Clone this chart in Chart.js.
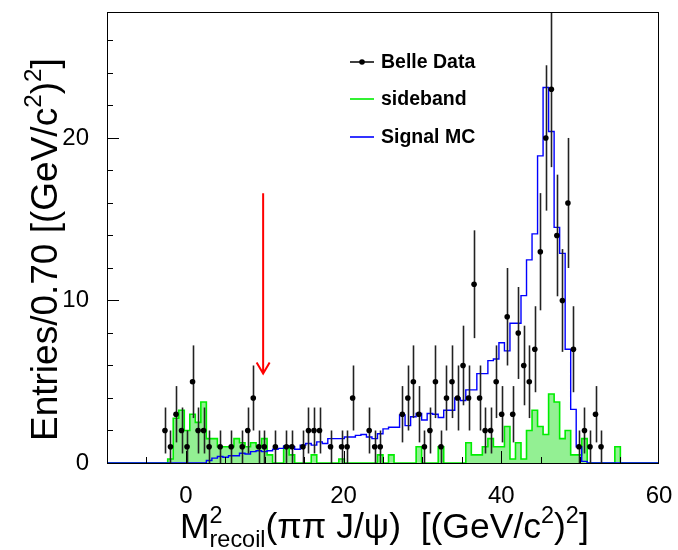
<!DOCTYPE html>
<html>
<head>
<meta charset="utf-8">
<script src="https://cdn.jsdelivr.net/npm/chart.js@4.4.1/dist/chart.umd.min.js"></script>
<style>
  html, body { margin: 0; padding: 0; background: #fff; }
  #c { display: block; }
</style>
</head>
<body>
<canvas id="c" width="678" height="550"></canvas>
<script>
// Histogram binning: 100 bins of 0.70 from -10 to 60
const BIN_MIN = -10;
const BIN_W = 0.7;

// Belle data, entries per bin (zero bins are not drawn)
const dataCounts = [
  0, 0, 0, 0, 0, 0, 0, 0, 0, 0,
  2, 1, 3, 2, 1, 5, 2, 2, 1, 0,
  1, 0, 1, 0, 1, 2, 4, 1, 1, 0,
  1, 0, 1, 1, 0, 1, 2, 2, 2, 0,
  1, 0, 1, 1, 4, 0, 0, 2, 1, 1,
  0, 0, 0, 3, 4, 5, 3, 1, 2, 5,
  1, 4, 5, 4, 6, 4, 11, 4, 2, 2,
  5, 3, 9, 3, 8, 6, 5, 7, 13, 20,
  23, 14, 10, 16, 7, 1, 2, 1, 3, 1,
  0, 0, 0, 0, 0, 0, 0, 0, 0, 0
];

// sideband (scaled), per bin
const sideband = [
  0, 0, 0, 0, 0, 0, 0, 0, 0, 0,
  0, 0.25, 2.75, 3.25, 2.0, 3.0, 2.5, 3.75, 1.5, 1.5,
  1.0, 1.0, 1.0, 1.5, 1.25, 1.0, 1.25, 1.0, 1.5, 0.5,
  0, 0, 1.0, 0.5, 0, 0, 0, 0.5, 0, 0,
  0, 0, 0.25, 0, 0, 0, 0, 0, 0, 0.5,
  0, 0.5, 0, 0, 0, 0, 1.0, 0, 0, 0,
  1.0, 0, 0, 0, 0, 1.25, 0.5, 0.5, 1.0, 1.5,
  1.0, 1.0, 2.25, 0.25, 1.25, 0.25, 2.0, 3.25, 2.25, 1.75,
  4.25, 3.75, 1.5, 2.0, 0.5, 0.5, 1.5, 0, 0, 0,
  0, 0, 1.0, 0, 0, 0, 0, 0, 0, 0
];

// Signal MC, per bin
const signalMC = [
  0, 0, 0, 0, 0, 0, 0, 0, 0, 0,
  0, 0, 0, 0, 0, 0, 0, 0, 0.15, 0.3,
  0.4, 0.35, 0.45, 0.45, 0.6, 0.55, 0.7, 0.75, 0.7, 0.75,
  0.85, 0.9, 1.05, 1.0, 0.85, 1.1, 1.2, 1.1, 1.3, 1.2,
  1.5, 1.5, 1.5, 1.6, 1.6, 1.7, 1.75, 1.6, 1.5, 1.8,
  2.1, 2.2, 2.2, 2.95, 2.3, 2.85, 3.05, 2.65, 3.05, 3.0,
  2.8, 3.25, 3.25, 4.0, 3.85, 4.5, 4.5, 5.5, 5.5, 6.3,
  6.4, 7.4, 6.9, 8.6, 8.6, 10.3, 12.5, 14.1, 18.9, 23.1,
  20.4, 14.5, 12.9, 7.0, 3.3, 1.0, 0.1, 0, 0, 0,
  0, 0, 0, 0, 0, 0, 0, 0, 0, 0
];

const X_TICKS = [0, 20, 40, 60];
const Y_TICKS = [0, 10, 20];
const ARROW_X = 9.8, ARROW_TOP = 16.6, ARROW_TIP = 5.5;

const FONT = '"Liberation Sans", Arial, Helvetica, sans-serif';

// step outline: one point per left bin edge + closing point at the right edge
function histPoints(vals) {
  const pts = vals.map((v, i) => ({ x: BIN_MIN + i * BIN_W, y: v }));
  pts.push({ x: BIN_MIN + vals.length * BIN_W, y: vals[vals.length - 1] });
  return pts;
}

const dataPts = dataCounts
  .map((n, i) => ({ x: BIN_MIN + (i + 0.5) * BIN_W, y: n }))
  .filter(p => p.y > 0);

// error bars sqrt(N), drawn just before the markers
const errorBars = {
  id: 'errorBars',
  beforeDatasetDraw(chart, args) {
    if (args.index !== 0) return;
    const { ctx, chartArea: a, scales: { x, y } } = chart;
    ctx.save();
    ctx.beginPath();
    ctx.rect(a.left, a.top, a.right - a.left, a.bottom - a.top);
    ctx.clip();
    ctx.strokeStyle = '#222';
    ctx.lineWidth = 1.6;
    dataPts.forEach(p => {
      const e = Math.sqrt(p.y);
      const px = Math.round(x.getPixelForValue(p.x)) + 0.5;
      ctx.beginPath();
      ctx.moveTo(px, y.getPixelForValue(p.y - e));
      ctx.lineTo(px, y.getPixelForValue(p.y + e));
      ctx.stroke();
    });
    ctx.restore();
  }
};

// text with ROOT-like super/subscripts: parts = [[text, kind]]
function drawRich(ctx, parts, size) {
  let w = 0;
  parts.forEach(([t, kind]) => {
    if (kind === 'supsub') {
      ctx.font = `${size * 0.66}px ${FONT}`;
      ctx.fillText(t[0], w, -size * 0.42);
      ctx.fillText(t[1], w, size * 0.26);
      w += Math.max(ctx.measureText(t[0]).width, ctx.measureText(t[1]).width);
    } else if (kind === 'sup') {
      ctx.font = `${size * 0.66}px ${FONT}`;
      ctx.fillText(t, w, -size * 0.42);
      w += ctx.measureText(t).width;
    } else {
      ctx.font = `${size}px ${FONT}`;
      ctx.fillText(t, w, 0);
      w += ctx.measureText(t).width;
    }
  });
  return w;
}

const decorations = {
  id: 'decorations',
  afterDraw(chart) {
    const { ctx, chartArea: a, scales: { x, y } } = chart;
    ctx.save();

    // frame
    ctx.strokeStyle = '#000';
    ctx.lineWidth = 1;
    ctx.strokeRect(a.left + 0.5, a.top + 0.5, a.right - a.left - 1, a.bottom - a.top);

    // ticks inside the frame (left and bottom only)
    ctx.beginPath();
    for (let v = 0; v <= 27; v += 2) {
      const py = Math.round(y.getPixelForValue(v)) + 0.5;
      const len = v % 10 === 0 ? 12 : 6;
      ctx.moveTo(a.left, py); ctx.lineTo(a.left + len, py);
    }
    for (let v = -5; v <= 55; v += 5) {
      const px = Math.round(x.getPixelForValue(v)) + 0.5;
      const len = v % 20 === 0 ? 12 : 6;
      ctx.moveTo(px, a.bottom); ctx.lineTo(px, a.bottom - len);
    }
    ctx.stroke();

    // red arrow
    const ax = x.getPixelForValue(ARROW_X);
    const at = y.getPixelForValue(ARROW_TOP);
    const tip = y.getPixelForValue(ARROW_TIP);
    ctx.strokeStyle = '#ff0000';
    ctx.lineWidth = 2;
    ctx.beginPath();
    ctx.moveTo(ax, at); ctx.lineTo(ax, tip);
    ctx.moveTo(ax - 6.5, tip - 11); ctx.lineTo(ax, tip); ctx.lineTo(ax + 6.5, tip - 11);
    ctx.stroke();

    // legend
    const items = [
      ['Belle Data', '#000', 62, true],
      ['sideband', '#00ee00', 99, false],
      ['Signal MC', '#0000ff', 137, false]
    ];
    ctx.font = `bold 19.5px ${FONT}`;
    ctx.textBaseline = 'middle';
    items.forEach(([label, col, ly, marker]) => {
      ctx.strokeStyle = col;
      ctx.lineWidth = marker ? 1.5 : 1.6;
      ctx.beginPath();
      ctx.moveTo(350, ly); ctx.lineTo(374, ly);
      ctx.stroke();
      if (marker) {
        ctx.fillStyle = '#000';
        ctx.beginPath(); ctx.arc(362, ly, 2.8, 0, Math.PI * 2); ctx.fill();
      }
      ctx.fillStyle = '#000';
      ctx.fillText(label, 381, ly + 1);
    });

    // axis titles
    ctx.fillStyle = '#000';
    ctx.textBaseline = 'alphabetic';
    ctx.textAlign = 'left';
    ctx.save();
    ctx.translate(180, 538);
    drawRich(ctx, [['M', ''], [['2', 'recoil'], 'supsub'], ['(\u03c0\u03c0 J/\u03c8)  [(GeV/c', ''], ['2', 'sup'], [')', ''], ['2', 'sup'], [']', '']], 35.5);
    ctx.restore();

    ctx.save();
    ctx.translate(57, 441);
    ctx.rotate(-Math.PI / 2);
    drawRich(ctx, [['Entries/0.70 [(GeV/c', ''], ['2', 'sup'], [')', ''], ['2', 'sup'], [']', '']], 37);
    ctx.restore();

    ctx.restore();
  }
};

const noPad = s => { s.paddingTop = 0; s.paddingBottom = 0; s.paddingLeft = 0; s.paddingRight = 0; };

new Chart(document.getElementById('c'), {
  type: 'scatter',
  data: {
    datasets: [
      {
        label: 'Belle Data', data: dataPts, order: 0,
        pointRadius: 2.8, pointBackgroundColor: '#000', pointBorderColor: '#000', pointBorderWidth: 0,
        showLine: false
      },
      {
        label: 'Signal MC', type: 'line', data: histPoints(signalMC), order: 1,
        stepped: true, borderColor: '#0000ff', borderWidth: 1.4, pointRadius: 0, fill: false
      },
      {
        label: 'sideband', type: 'line', data: histPoints(sideband), order: 2,
        stepped: true, borderColor: '#00ee00', borderWidth: 1.6, pointRadius: 0,
        backgroundColor: 'rgba(40, 225, 40, 0.5)', fill: 'origin'
      }
    ]
  },
  options: {
    responsive: false,
    animation: false,
    devicePixelRatio: 1,
    layout: { padding: { top: 12, right: 19, left: 0, bottom: 0 } },
    plugins: { legend: { display: false }, tooltip: { enabled: false } },
    scales: {
      x: {
        type: 'linear', min: -10, max: 60,
        grid: { display: false }, border: { display: false },
        afterBuildTicks: s => { s.ticks = X_TICKS.map(v => ({ value: v })); },
        afterFit: s => { s.height = 87; noPad(s); },
        ticks: { color: '#000', font: { size: 24, family: FONT }, padding: 11, autoSkip: false, maxRotation: 0 }
      },
      y: {
        type: 'linear', min: 0, max: 27.75,
        grid: { display: false }, border: { display: false },
        afterBuildTicks: s => { s.ticks = Y_TICKS.map(v => ({ value: v })); },
        afterFit: s => { s.width = 107; noPad(s); },
        ticks: { color: '#000', font: { size: 24, family: FONT }, padding: 10, autoSkip: false }
      }
    }
  },
  plugins: [errorBars, decorations]
});
</script>
</body>
</html>
